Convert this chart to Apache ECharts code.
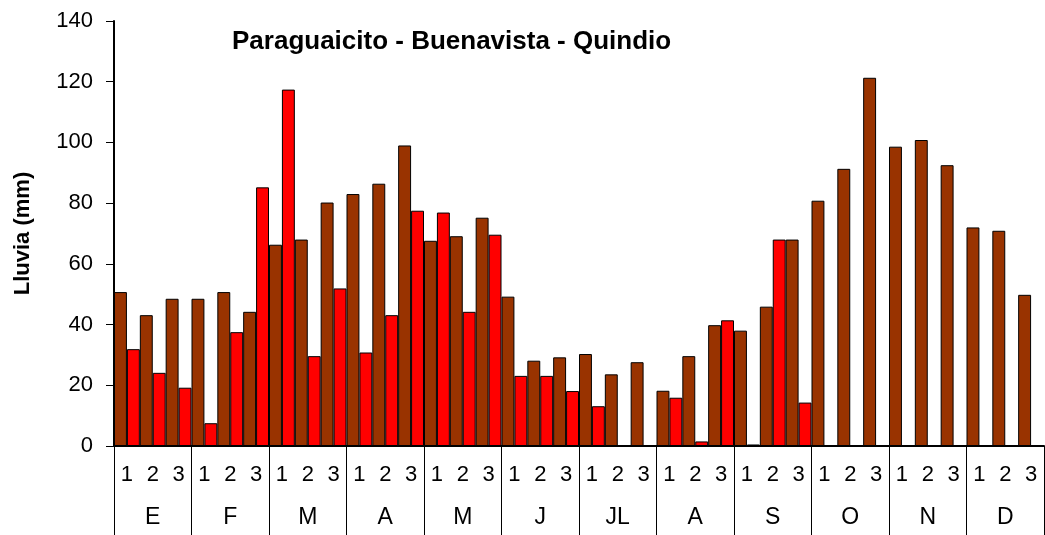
<!DOCTYPE html>
<html>
<head>
<meta charset="utf-8">
<script src="https://cdn.jsdelivr.net/npm/echarts@6/dist/echarts.min.js"></script>
<style>
	html, body { margin: 0; padding: 0; background: #fff; }
	#chart { width: 1045px; height: 535px; }
</style>
</head>
<body>
<div id="chart"></div>
<script>
// decades (1, 2, 3) for each month
const months = ['E', 'F', 'M', 'A', 'M', 'J', 'JL', 'A', 'S', 'O', 'N', 'D'];
const decadeNames = ['1', '2', '3'];
const decades = [];
months.forEach(() => decades.push(...decadeNames));

// brown bars
const promedio = [
	50.7, 43.1, 48.5, 48.5, 50.7, 44.2, 66.3, 68.0, 80.2, 83.0, 86.4, 99.0,
	67.6, 69.1, 75.2, 49.2, 28.1, 29.2, 30.3, 23.6, 27.6, 18.2, 29.6, 39.8,
	38.0, 45.9, 68.0, 80.8, 91.3, 121.3, 98.6, 100.8, 92.5, 72.0, 70.9, 49.8
];
// red bars
const anio = [
	31.9, 24.1, 19.2, 7.5, 37.5, 85.2, 117.4, 29.6, 51.9, 30.8, 43.1, 77.5,
	76.9, 44.2, 69.6, 23.1, 23.1, 18.1, 13.1, 0, 0, 15.9, 1.5, 41.4,
	0.5, 68.0, 14.3, 0, 0, 0, 0, 0, 0, 0, 0, 0
];

const fontFam = '"Liberation Sans", Arial, sans-serif';

var chartDom = document.getElementById('chart');
var myChart = echarts.init(chartDom);
var option = {
	animation: false,
	backgroundColor: '#fff',
	title: {
		text: 'Paraguaicito - Buenavista - Quindio',
		left: 227,
		top: 24,
		textStyle: { fontFamily: fontFam, fontSize: 26, fontWeight: 'bold', color: '#000' },
	},
	grid: { left: 114, right: 1, top: 21, bottom: 89 },
	xAxis: [
		{
			type: 'category',
			data: decades,
			position: 'bottom',
			axisLine: { lineStyle: { color: '#000', width: 2 } },
			axisTick: { show: false },
			axisLabel: { color: '#000', fontFamily: fontFam, fontSize: 22, margin: 18, interval: 0 },
		},
		{
			type: 'category',
			data: months,
			position: 'bottom',
			axisLine: { show: false },
			axisTick: { show: true, length: 89, lineStyle: { color: '#000', width: 1 } },
			axisLabel: { color: '#000', fontFamily: fontFam, fontSize: 23, margin: 60, interval: 0 },
		},
	],
	yAxis: {
		type: 'value',
		min: 0,
		max: 140,
		interval: 20,
		name: 'Lluvia (mm)',
		nameLocation: 'middle',
		nameGap: 80,
		nameTextStyle: { fontFamily: fontFam, fontSize: 22, fontWeight: 'bold', color: '#000' },
		axisLine: { show: true, lineStyle: { color: '#000', width: 2 } },
		axisTick: { show: true, length: 8, lineStyle: { color: '#000' } },
		axisLabel: { color: '#000', fontFamily: fontFam, fontSize: 22, margin: 21 },
		splitLine: { show: false },
	},
	series: [
		{
			type: 'bar',
			data: promedio,
			barGap: '0%',
			barCategoryGap: '0%',
			itemStyle: { color: '#993300', borderColor: '#000', borderWidth: 1 },
		},
		{
			type: 'bar',
			data: anio,
			itemStyle: { color: '#ff0000', borderColor: '#000', borderWidth: 1 },
		},
	],
};
option && myChart.setOption(option);
</script>
</body>
</html>
